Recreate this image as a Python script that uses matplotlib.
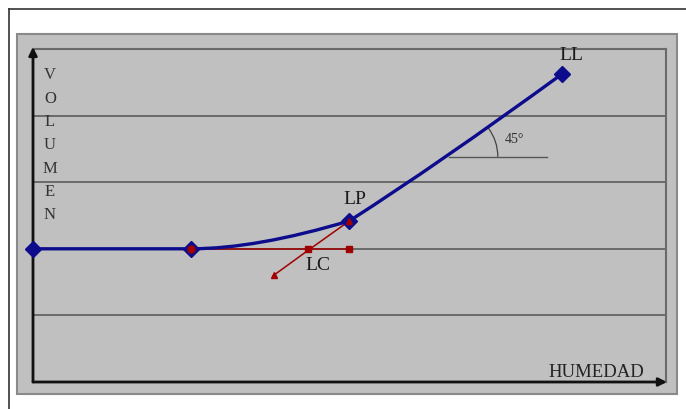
import matplotlib
matplotlib.use("Agg")
import matplotlib.pyplot as plt
import matplotlib.transforms as mtransforms
from matplotlib.lines import Line2D
from matplotlib.patches import Arc, PathPatch, Rectangle
from matplotlib.path import Path

# curva de volumen vs humedad: vertices y puntos de control
curve_x = [0.0, 1.0, 1.41, 2.0, 2.56, 3.34]
curve_y = [2.0, 2.0, 2.0, 2.42, 3.27, 4.62]
curve_codes = [Path.MOVETO, Path.LINETO, Path.CURVE3, Path.CURVE3, Path.CURVE3, Path.CURVE3]

# puntos marcados sobre la curva
point_x = [0.0, 1.0, 2.0, 3.34]
point_y = [2.0, 2.0, 2.42, 4.62]

# construccion del limite de contraccion
lc_hx = [1.0, 1.74, 2.0]
lc_hy = [2.0, 2.0, 2.0]
lc_dx = [2.0, 1.74, 1.52]
lc_dy = [2.42, 1.98, 1.6]

labels = ["LL", "LP", "LC"]
label_x = [3.40, 2.035, 1.80]
label_y = [4.92, 2.76, 1.76]

angle_x = [2.63, 3.25]
angle_y = [3.38, 3.38]

BLUE = "#0c0c8c"
RED = "#a00000"
GRID = "#6a6a6a"
PANEL = "#c0c0c0"
SERIF = ["Liberation Serif", "DejaVu Serif"]

W, H = 686, 410
fig = plt.figure(figsize=(W / 100, H / 100), dpi=100)

# marco exterior y panel gris
fig.patches.append(Rectangle((17 / W, 1 - 395 / H), 660 / W, 360 / H,
                             transform=fig.transFigure, facecolor=PANEL,
                             edgecolor="#8a8a8a", linewidth=1.5, zorder=-1))
fig.lines.append(Line2D([9 / W, 1.0], [1 - 10 / H, 1 - 10 / H],
                        transform=fig.transFigure, color="#333333", lw=1.2))
fig.lines.append(Line2D([9 / W, 9 / W], [0.0, 1 - 10 / H],
                        transform=fig.transFigure, color="#333333", lw=1.2))

ax = fig.add_axes([33 / W, 1 - 383 / H, 633 / W, 333 / H])
ax.set_zorder(2)
ax.set_facecolor(PANEL)
ax.set_xlim(0, 4)
ax.set_ylim(0, 5)
ax.set_xticks([])
ax.set_yticks([])
for side in ax.spines.values():
    side.set_color(GRID)
    side.set_linewidth(1.5)
for yv in [1, 2, 3, 4]:
    ax.axhline(yv, color=GRID, lw=1.4, zorder=1)

# ejes con flecha
ax.annotate("", xy=(0, 5.03), xytext=(0, 0), annotation_clip=False,
            arrowprops=dict(arrowstyle="-|>", color="#111111", lw=2,
                            mutation_scale=12, shrinkA=0, shrinkB=0))
ax.annotate("", xy=(4.006, 0), xytext=(0, 0), annotation_clip=False,
            arrowprops=dict(arrowstyle="-|>", color="#111111", lw=2,
                            mutation_scale=12, shrinkA=0, shrinkB=0))

# construccion LC
ax.plot(lc_hx, lc_hy, color=RED, lw=1.1, zorder=2.5)
ax.plot(lc_dx, lc_dy, color=RED, lw=1.1, zorder=2.5)

# curva
curve = Path(list(zip(curve_x, curve_y)), curve_codes)
ax.add_patch(PathPatch(curve, facecolor="none", edgecolor=BLUE, lw=2.4,
                       zorder=3, capstyle="round"))
ax.plot(point_x, point_y, "D", color=BLUE, ms=8, zorder=4, clip_on=False)

# marcadores rojos
ax.plot(lc_hx[0], lc_hy[0], "o", color=RED, ms=5, zorder=5)
ax.plot(lc_hx[1:], lc_hy[1:], "s", color=RED, ms=5, zorder=5)
ax.plot([lc_dx[0], lc_dx[2]], [lc_dy[0], lc_dy[2]], "^", color=RED, ms=5, zorder=5)

for txt, lx, ly in zip(labels, label_x, label_y):
    ax.text(lx, ly, txt, fontsize=14, family=SERIF, color="#1a1a1a",
            ha="center", va="center", zorder=6)

# angulo de 45
ax.plot(angle_x, angle_y, color="#555555", lw=1, zorder=2)
arc_tr = (mtransforms.Affine2D().scale(1 / 72) + fig.dpi_scale_trans
          + mtransforms.ScaledTranslation(angle_x[0], angle_y[0], ax.transData))
ax.add_patch(Arc((0, 0), 70, 70, theta1=0, theta2=37, transform=arc_tr,
                 color="#444444", lw=0.9))
ax.text(2.98, 3.65, "45°", fontsize=10, family=SERIF, color="#333333",
        ha="left", va="center")

ax.text(0.107, 3.57, "V\nO\nL\nU\nM\nE\nN", fontsize=12, family=SERIF,
        color="#333333", ha="center", va="center", linespacing=1.61)
ax.text(3.56, 0.165, "HUMEDAD", fontsize=13.5, family=SERIF,
        color="#222222", ha="center", va="center")

fig.savefig("out.png", dpi=100)
